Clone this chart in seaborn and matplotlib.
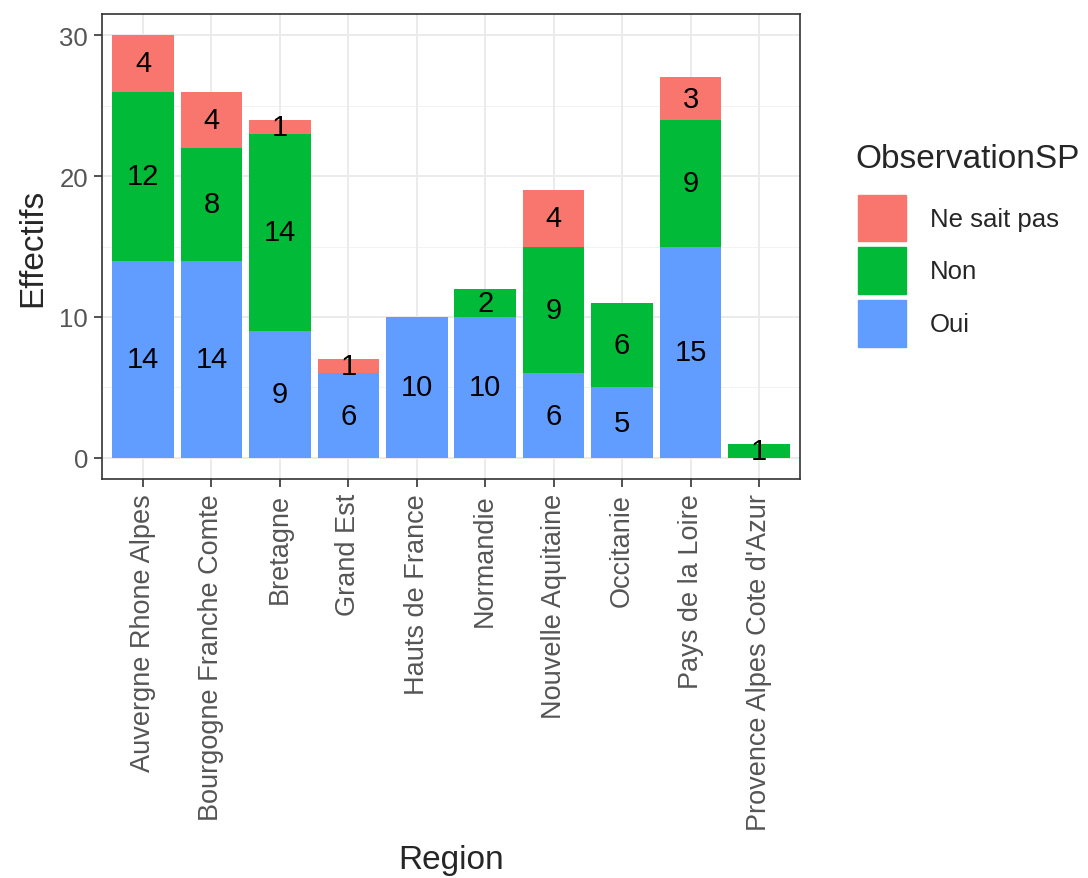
import numpy as np
import pandas as pd
import matplotlib.pyplot as plt
import seaborn as sns

# Data
regions = ["Auvergne Rhone Alpes", "Bourgogne Franche Comte", "Bretagne", "Grand Est",
           "Hauts de France", "Normandie", "Nouvelle Aquitaine", "Occitanie",
           "Pays de la Loire", "Provence Alpes Cote d'Azur"]
oui = [14, 14, 9, 6, 10, 10, 6, 5, 15, 0]
non = [12, 8, 14, 0, 0, 2, 9, 6, 9, 1]
nsp = [4, 4, 1, 1, 0, 0, 4, 0, 3, 0]

series = [("Oui", oui, "#619CFF"), ("Non", non, "#00BA38"), ("Ne sait pas", nsp, "#F8766D")]

sns.set_style("white")
plt.rcParams['font.family'] = ['Liberation Sans', 'DejaVu Sans']

fig = plt.figure(figsize=(10.88, 8.79), dpi=100)
ax = fig.add_axes([102 / 1088, 1 - 480 / 879, 698 / 1088, 465 / 879])

# minor / major grid like theme_bw
for v in [5, 15, 25]:
    ax.axhline(v, color="#F2F2F2", lw=0.7, zorder=0)
for v in [0, 10, 20, 30]:
    ax.axhline(v, color="#EBEBEB", lw=1.4, zorder=0)
for i in range(len(regions)):
    ax.axvline(i, color="#EBEBEB", lw=1.4, zorder=0)

bottom = np.zeros(len(regions))
for name, vals, col in series:
    vals = np.array(vals, dtype=float)
    sns.barplot(x=regions, y=vals, bottom=bottom, color=col, width=0.9,
                saturation=1, ax=ax, zorder=2, linewidth=0)
    for i, v in enumerate(vals):
        if v > 0:
            ax.text(i, bottom[i] + v / 2, f"{int(v)}", ha="center", va="center",
                    fontsize=21, color="black", zorder=3)
    bottom += vals

ax.set_xlim(-0.6, len(regions) - 0.4)
ax.set_ylim(-1.5, 31.5)
ax.set_yticks([0, 10, 20, 30])
ax.set_xticks(range(len(regions)))
ax.set_xticklabels(regions, rotation=90, fontsize=19.5, color="#555555")
ax.tick_params(axis="y", labelsize=18.5, labelcolor="#555555")
ax.tick_params(axis="both", direction="out", length=6, width=1.2, color="#333333",
               bottom=True, left=True, pad=4)
ax.set_xlabel("Region", fontsize=24, labelpad=10)
ax.set_ylabel("Effectifs", fontsize=24, labelpad=8)
for s in ax.spines.values():
    s.set_visible(True)
    s.set_color("#333333")
    s.set_linewidth(1.2)

# legend (title drawn separately to get the ggplot spacing)
fig.text(855 / 1088, 1 - 160 / 879, "ObservationSP", fontsize=24, ha="left", va="center")
handles = [plt.Rectangle((0, 0), 1, 1, color=c) for _, _, c in series[::-1]]
labels = [n for n, _, _ in series[::-1]]
leg = fig.legend(handles, labels, loc="upper left",
                 bbox_to_anchor=(837 / 1088, 1 - 175 / 879), frameon=False,
                 fontsize=18.5, handlelength=1.9, handleheight=2.4,
                 handletextpad=0.9, labelspacing=0.25, borderpad=0.3)

fig.savefig("out.png", dpi=100)
